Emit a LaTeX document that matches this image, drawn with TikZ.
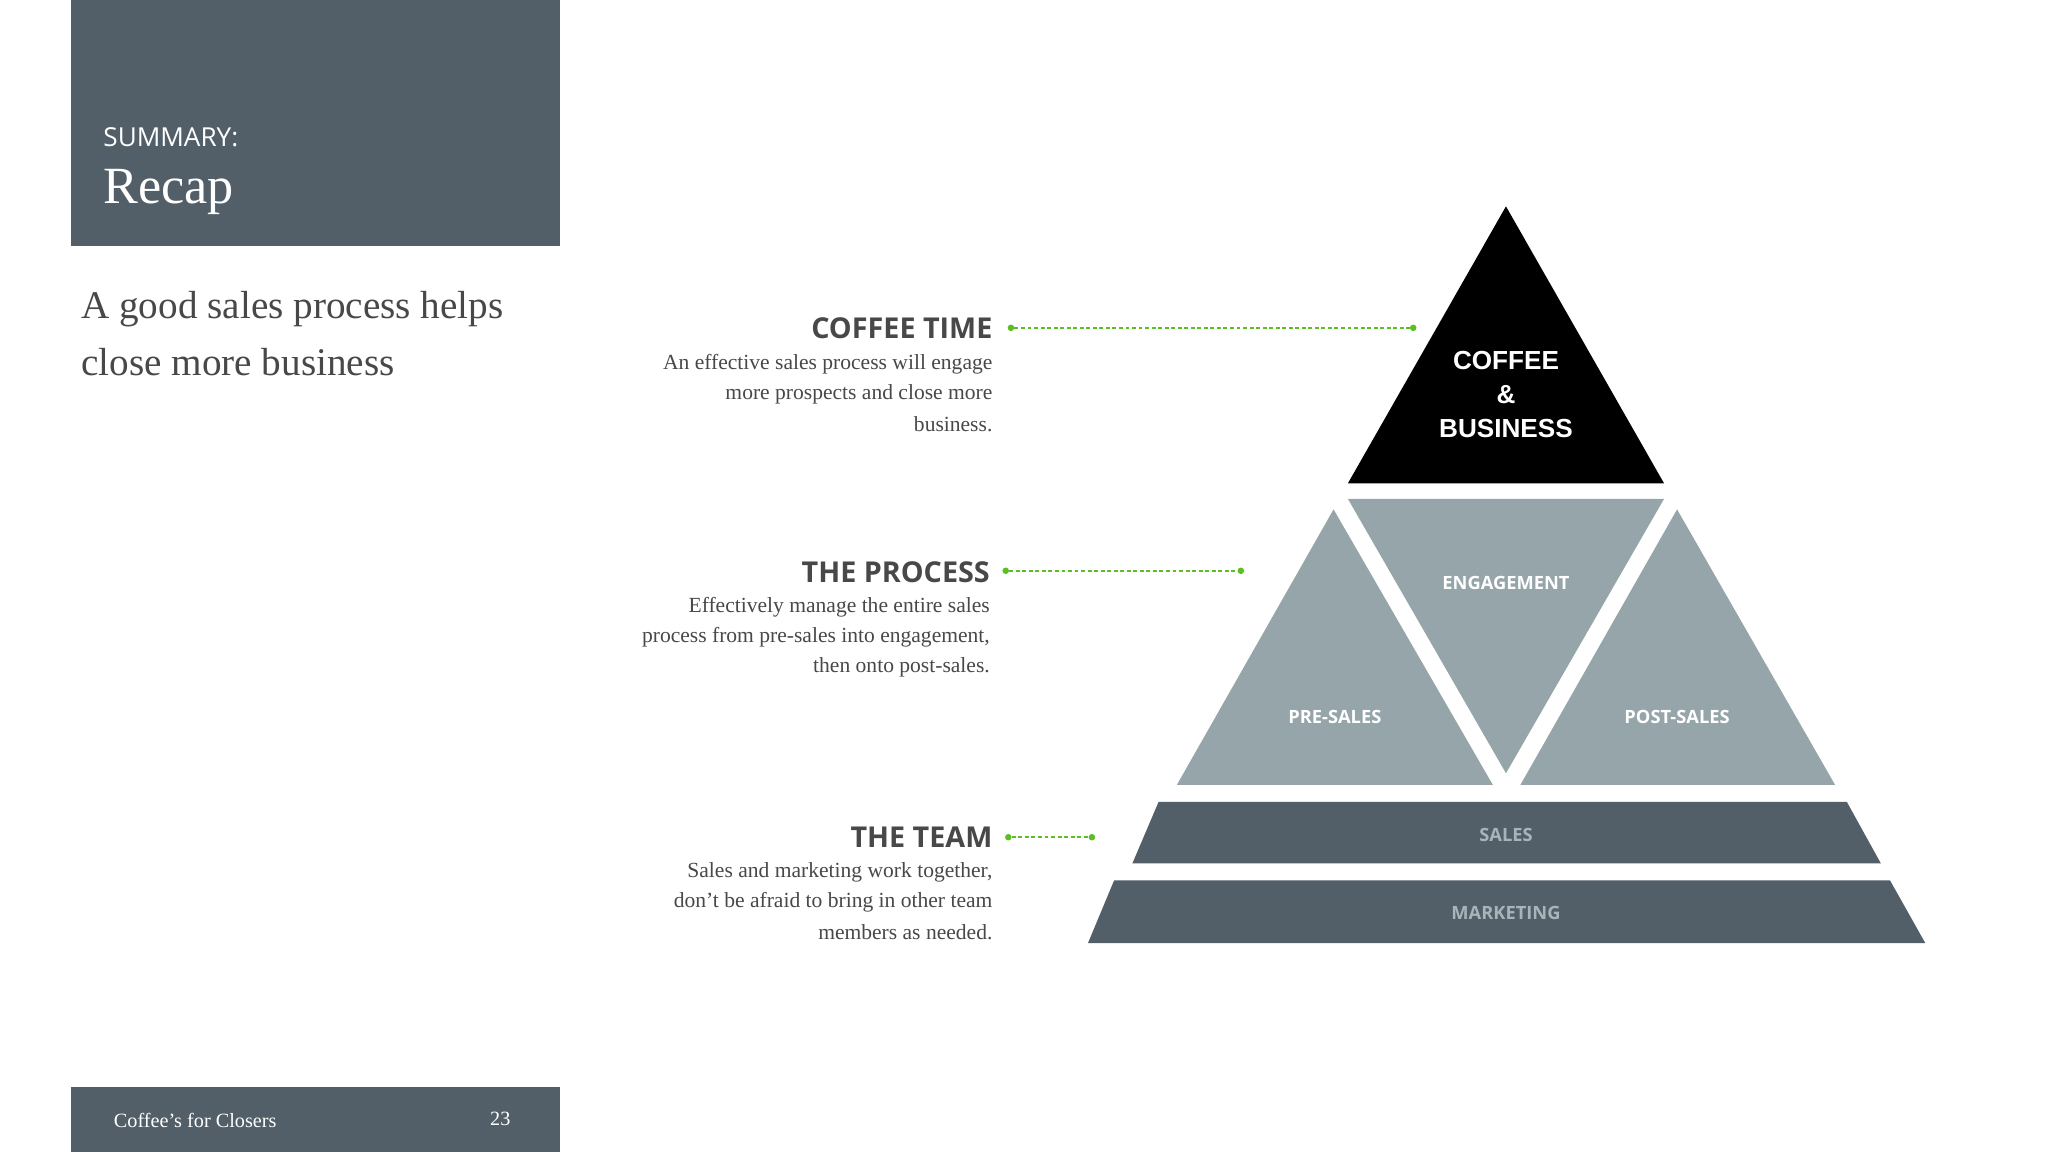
\documentclass[tikz,border=0pt]{standalone}
\usepackage{fontspec}
\setmainfont{Liberation Serif}
\newfontfamily\osans{Open Sans}
\newfontfamily\asans{Liberation Sans}
\begin{document}
\begin{tikzpicture}[x=1pt,y=-1pt,
  dk/.style={fill=slate,draw=none},
  lt/.style={fill=lgray,draw=none},
  head/.style={anchor=east,font=\osans\bfseries\fontsize{22}{26}\selectfont,text=txt,inner sep=0},
  body/.style={anchor=east,font=\fontsize{16.5}{20}\selectfont,text=txt,inner sep=0},
  tl/.style={font=\osans\bfseries\fontsize{14}{16}\selectfont,text=white,inner sep=0},
  bl/.style={font=\osans\bfseries\fontsize{14}{16}\selectfont,text=lab,inner sep=0},
  gl/.style={draw=grn,line width=1.2pt,dash pattern=on 3pt off 2pt},
  dot/.style={circle,fill=grn,inner sep=0,minimum size=5pt}]
\definecolor{slate}{HTML}{525F68}
\definecolor{lgray}{HTML}{95A5A9}
\definecolor{txt}{HTML}{484848}
\definecolor{lab}{HTML}{A9B4BA}
\definecolor{grn}{HTML}{5BBF21}
\useasboundingbox (0,0) rectangle (1568,882);
\fill[white] (0,0) rectangle (1568,882);
\fill[slate] (54,0) rectangle (429,188);
\node[anchor=west,inner sep=0,text=white,font=\osans\fontsize{20}{24}\selectfont] (sum) at (79,105) {SUMMARY:};
\node[anchor=west,inner sep=0,text=white,font=\fontsize{40}{44}\selectfont] (rec) at (79,147) {Recap};
\node[anchor=west,inner sep=0,text=txt,font=\fontsize{30}{34}\selectfont] (l1) at (62,237) {A good sales process helps};
\node[anchor=west,inner sep=0,text=txt,font=\fontsize{30}{34}\selectfont] (l2) at (62,277) {close more business};
\fill[slate] (54,832) rectangle (429,882);
\node[anchor=west,inner sep=0,text=white,font=\fontsize{15.5}{18}\selectfont] (ft) at (87,858) {Coffee’s for Closers};
\node[inner sep=0,text=white,font=\fontsize{15.5}{18}\selectfont] (pg) at (383,857) {23};
% pyramid
\fill[black] (1153,158) -- (1274,370) -- (1032,370) -- cycle;
\fill[lt] (1032,382) -- (1274,382) -- (1153,592) -- cycle;
\fill[lt] (1021,390) -- (1143,601) -- (901,601) -- cycle;
\fill[lt] (1284,390) -- (1405,601) -- (1164,601) -- cycle;
\fill[dk] (887,614) -- (1414,614) -- (1440,661) -- (867,661) -- cycle;
\fill[dk] (853,674) -- (1447,674) -- (1474,722) -- (833,722) -- cycle;
\node[text=white,font=\asans\bfseries\fontsize{20}{26}\selectfont,align=center,inner sep=0] (cb) at (1153,302) {COFFEE\\[0pt]\&\\[0pt]BUSINESS};
\node[tl] (eng) at (1153,446) {ENGAGEMENT};
\node[tl] (pre) at (1022,549) {PRE-SALES};
\node[tl] (post) at (1284,549) {POST-SALES};
\node[bl] (sal) at (1153,639) {SALES};
\node[bl] (mkt) at (1153,699) {MARKETING};
% text
\node[head] (h1) at (760,251) {COFFEE TIME};
\node[body] at (760,279) {An effective sales process will engage};
\node[body] at (760,302) {more prospects and close more};
\node[body] at (760,325) {business.};
\node[head] (h2) at (758,438) {THE PROCESS};
\node[body] at (758,465) {Effectively manage the entire sales};
\node[body] at (758,488) {process from pre-sales into engagement,};
\node[body] at (758,511) {then onto post-sales.};
\node[head] (h3) at (760,641) {THE TEAM};
\node[body] at (760,668) {Sales and marketing work together,};
\node[body] at (760,691) {don’t be afraid to bring in other team};
\node[body] at (760,714) {members as needed.};
% connectors
\node[dot] (a1) at (774,251) {}; \node[dot] (b1) at (1082,251) {};
\node[dot] (a2) at (770,437) {}; \node[dot] (b2) at (950,437) {};
\node[dot] (a3) at (772,641) {}; \node[dot] (b3) at (836,641) {};
\draw[gl] (a1) -- (b1);
\draw[gl] (a2) -- (b2);
\draw[gl] (a3) -- (b3);
\end{tikzpicture}
\end{document}
